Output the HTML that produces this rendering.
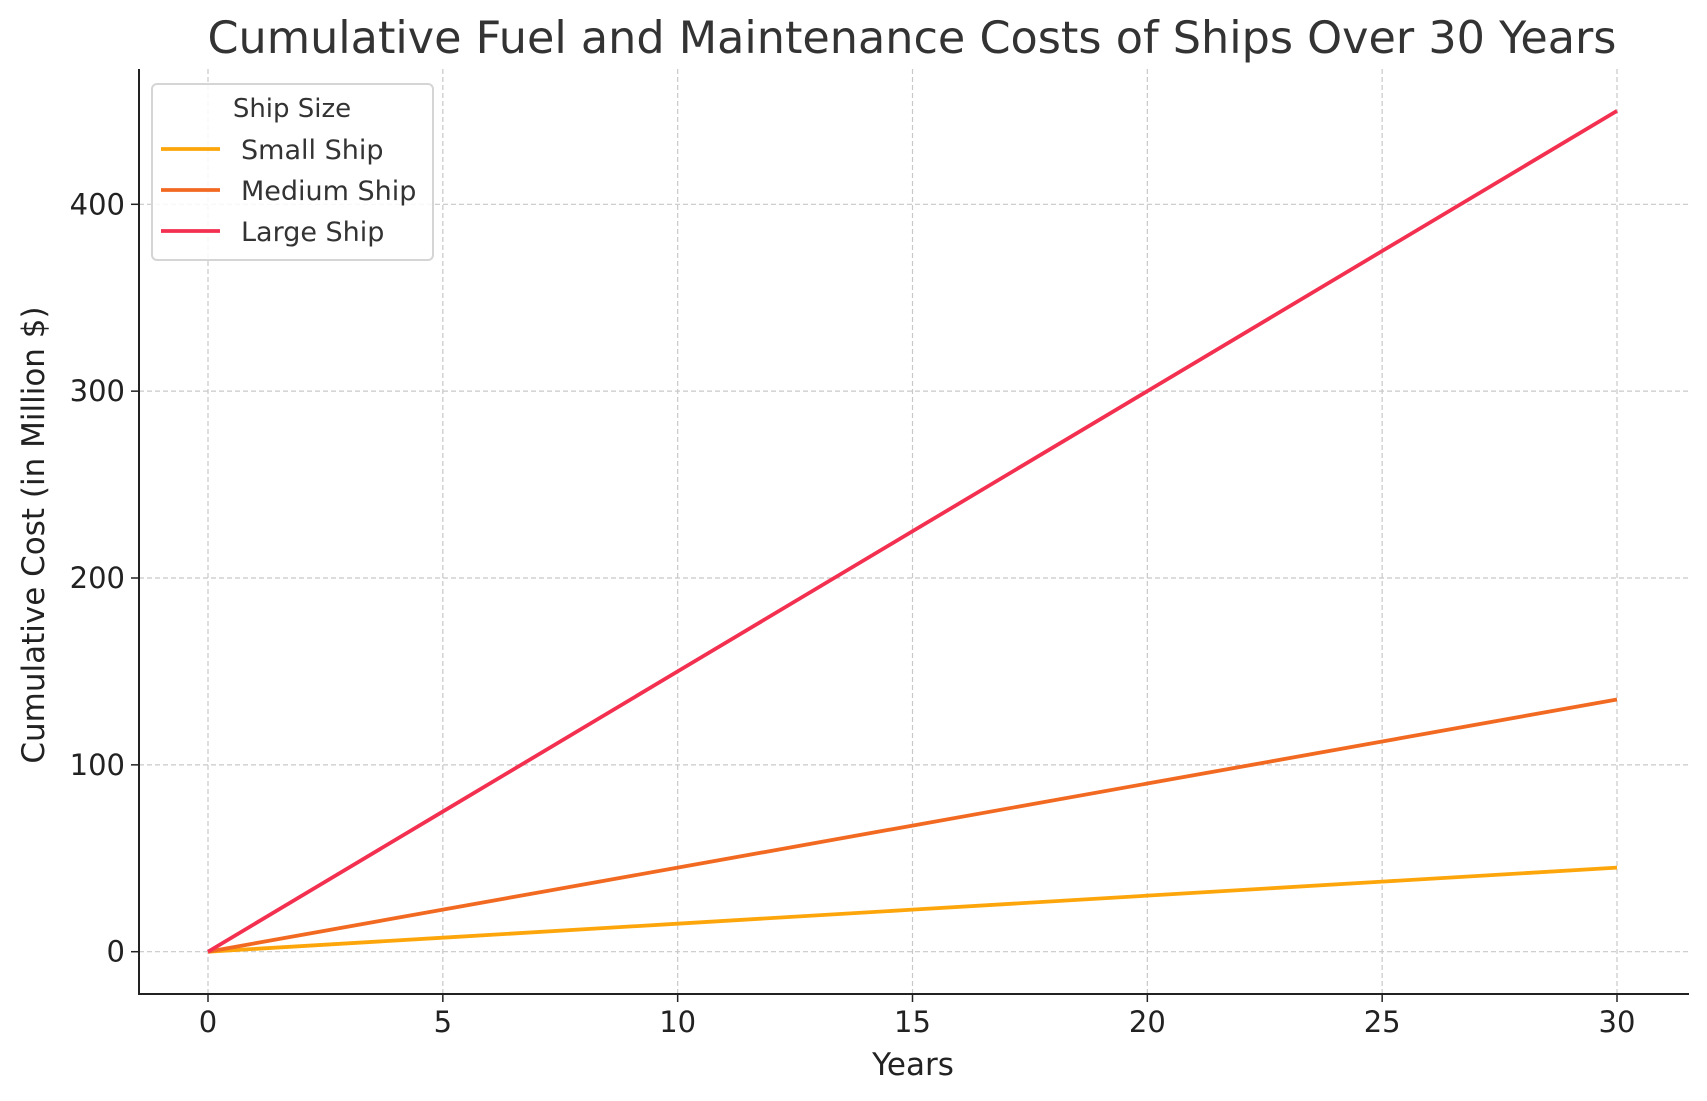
<!DOCTYPE html>
<html><head><meta charset="utf-8"><style>
body{margin:0;background:#fff}
svg{display:block;font-family:"DejaVu Sans","Liberation Sans",sans-serif}
</style></head><body>
<svg id="chart" width="1707" height="1101" viewBox="0 0 1707 1101" xmlns="http://www.w3.org/2000/svg">
<rect width="1707" height="1101" fill="#fff"/>
<text x="912" y="53" text-anchor="middle" font-size="44.5" fill="#333">Cumulative Fuel and Maintenance Costs of Ships Over 30 Years</text>
<g id="grid"></g>
<g id="series"></g>
<g id="axes"></g>
<text x="913" y="1075" text-anchor="middle" font-size="31" fill="#222">Years</text>
<text transform="translate(44,535) rotate(-90)" text-anchor="middle" font-size="31" fill="#222">Cumulative Cost (in Million $)</text>
<g>
<rect x="152" y="84" width="281" height="176" rx="5" fill="#fff" fill-opacity="0.85" stroke="#d5d5d5" stroke-width="2"/>
<text x="292" y="117" text-anchor="middle" font-size="26" fill="#333">Ship Size</text>
<g id="legend-entries"></g>
</g>
</svg>
<script>
const years = [0, 5, 10, 15, 20, 25, 30];
const seriesNames = ["Small Ship", "Medium Ship", "Large Ship"];
const smallShip = [0, 7.5, 15, 22.5, 30, 37.5, 45];
const mediumShip = [0, 22.5, 45, 67.5, 90, 112.5, 135];
const largeShip = [0, 75, 150, 225, 300, 375, 450];
const xTicks = [0, 5, 10, 15, 20, 25, 30];
const yTicks = [0, 100, 200, 300, 400];
const colors = ["#fca60c", "#f26a22", "#f33050"];
const NS = "http://www.w3.org/2000/svg";
const L = 139, R = 1689, T = 69, B = 994;
function xScale(v){ return 208 + (v - 0) * (1617 - 208) / 30; }
function yScale(v){ return 951.7 - v * (951.7 - 204.3) / 400; }
function mk(tag, attrs, parent){ const e = document.createElementNS(NS, tag); for (const k in attrs) e.setAttribute(k, attrs[k]); parent.appendChild(e); return e; }
const grid = document.getElementById('grid'), axes = document.getElementById('axes'), ser = document.getElementById('series');
xTicks.forEach(t => {
  const x = xScale(t);
  const g = mk('line', {x1:x, x2:x, y1:T, y2:B, stroke:'#c8c8c8', 'stroke-width':1.2, 'stroke-dasharray':'5,3'}, grid);
  
  
  const tk = mk('line', {x1:x, x2:x, y1:B, y2:B+8, stroke:'#222', 'stroke-width':1.5}, axes);
  
  
  const lb = mk('text', {x:x, y:1032, 'text-anchor':'middle', 'font-size':29, fill:'#222'}, axes);
  lb.textContent = t;
  
  
});
yTicks.forEach(t => {
  const y = yScale(t);
  const g = mk('line', {x1:L, x2:R, y1:y, y2:y, stroke:'#c8c8c8', 'stroke-width':1.2, 'stroke-dasharray':'5,3'}, grid);
  
  
  const tk = mk('line', {x1:L-8, x2:L, y1:y, y2:y, stroke:'#222', 'stroke-width':1.5}, axes);
  
  
  const lb = mk('text', {x:L-14, y:y+10, 'text-anchor':'end', 'font-size':29, fill:'#222'}, axes);
  lb.textContent = t;
  
  
});
const la = mk('line', {x1:L, x2:L, y1:T, y2:B+1, stroke:'#222', 'stroke-width':2}, axes);


const ba = mk('line', {x1:L, x2:R, y1:B, y2:B, stroke:'#222', 'stroke-width':2}, axes);


[smallShip, mediumShip, largeShip].forEach((vals, i) => {
  const pts = vals.map((v, j) => xScale(years[j]) + ',' + yScale(v)).join(' ');
  const p = mk('polyline', {points:pts, fill:'none', stroke:colors[i], 'stroke-width':3.8, 'stroke-linejoin':'round'}, ser);
  
  
});
const le = document.getElementById('legend-entries');
seriesNames.forEach((n, i) => {
  const y = 149 + i * 41;
  const l = mk('line', {x1:161, x2:220, y1:y, y2:y, stroke:colors[i], 'stroke-width':3.8}, le);
  
  
  const t = mk('text', {x:241, y:y+10, 'font-size':27, fill:'#333'}, le);
  t.textContent = n;
  
  
});
</script>
</body></html>
